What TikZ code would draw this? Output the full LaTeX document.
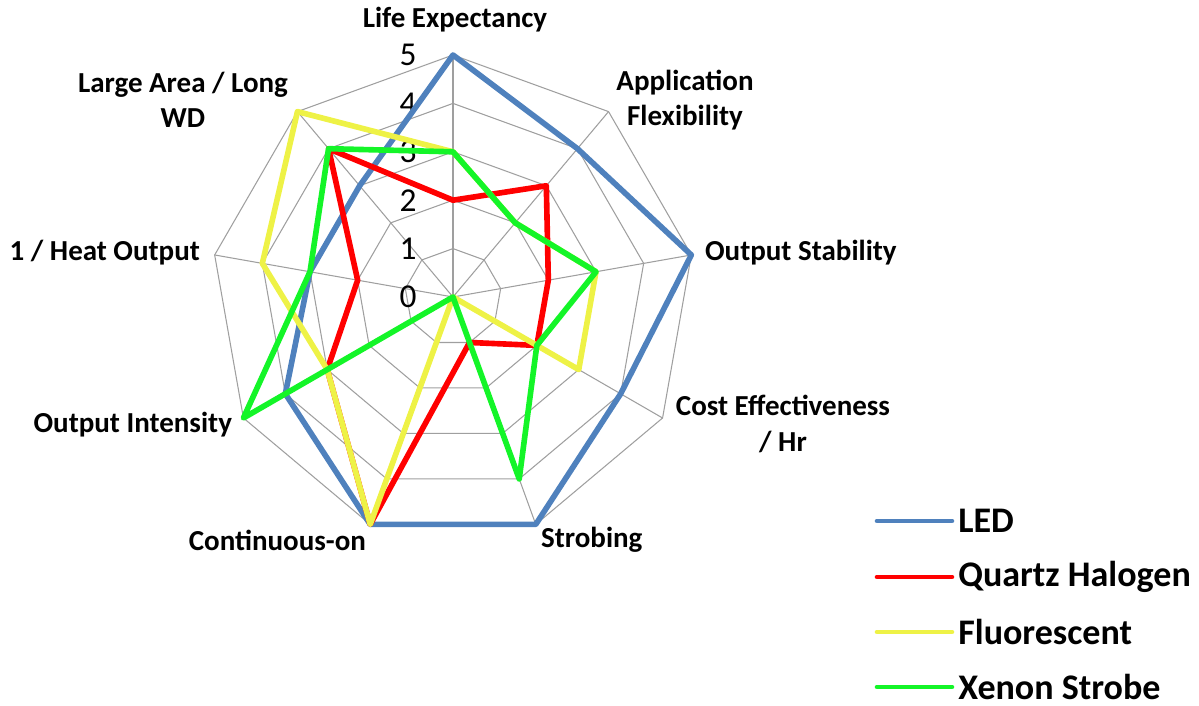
\documentclass[tikz,border=0pt]{standalone}
\usepackage{fontspec}
\setmainfont{Carlito}
\usepackage{tikz}
\definecolor{ledblue}{RGB}{79,129,189}
\definecolor{halored}{RGB}{255,0,0}
\definecolor{fluoyellow}{RGB}{238,242,70}
\definecolor{xenongreen}{RGB}{20,245,40}
\tikzset{
  axislabel/.style={font={\fontsize{16.5pt}{20pt}\selectfont\bfseries},inner sep=1pt},
  scalelabel/.style={font={\fontsize{19pt}{20pt}\selectfont},inner sep=0pt},
  legendlabel/.style={font={\fontsize{20.5pt}{22pt}\selectfont\bfseries},anchor=west,inner sep=0pt},
  gridline/.style={draw=gray!75,line width=0.6pt},
  series/.style={line width=3.2pt,line join=round},
  legline/.style={line width=2.6pt,line cap=round}}
\def\ru{0.968}

\begin{document}
\begin{tikzpicture}
\useasboundingbox (-9.06,-8.18) rectangle (14.92,5.94);
% web
\foreach \l in {1,...,5}
  \draw[gridline] (90:\l*\ru) \foreach \i in {1,...,8}{ -- ({90-40*\i}:\l*\ru)} -- cycle;
\foreach \i in {0,...,8}
  \draw[gridline] (0,0) -- ({90-40*\i}:5*\ru);
% scale
\foreach \l in {0,...,5}
  \node[scalelabel] (s\l) at (-0.9,\l*\ru) {\l};
% series
\draw[series,ledblue] (90:5*\ru) -- (50:4*\ru) -- (10:5*\ru) -- (-30:4*\ru) -- (-70:5*\ru)
  -- (-110:5*\ru) -- (-150:4*\ru) -- (170:3*\ru) -- (130:3*\ru) -- cycle;
\draw[series,halored] (90:2*\ru) -- (50:3*\ru) -- (10:2*\ru) -- (-30:2*\ru) -- (-70:1*\ru)
  -- (-110:5*\ru) -- (-150:3*\ru) -- (170:2*\ru) -- (130:4*\ru) -- cycle;
\draw[series,fluoyellow] (90:3*\ru) -- (50:2*\ru) -- (10:3*\ru) -- (-30:3*\ru) -- (0,0)
  -- (-110:5*\ru) -- (-150:3*\ru) -- (170:4*\ru) -- (130:5*\ru) -- cycle;
\draw[series,xenongreen] (90:3*\ru) -- (50:2*\ru) -- (10:3*\ru) -- (-30:2*\ru) -- (-70:4*\ru)
  -- (0,0) -- (-150:5*\ru) -- (170:3*\ru) -- (130:4*\ru) -- cycle;
% axis labels
\node[axislabel] (life) at (0.04,5.54) {Life Expectancy};
\node[axislabel,align=center] (appflex) at (4.64,3.94) {Application\\Flexibility};
\node[axislabel,anchor=west] (stab) at (5.0,0.88) {Output Stability};
\node[axislabel,align=center] (cost) at (6.6,-2.54) {Cost Effectiveness\\/ Hr};
\node[axislabel,anchor=west] (strob) at (1.72,-4.86) {Strobing};
\node[axislabel,anchor=east] (cont) at (-1.7,-4.86) {Continuous-on};
\node[axislabel,anchor=east] (intens) at (-4.38,-2.56) {Output Intensity};
\node[axislabel,anchor=east] (heat) at (-5.02,0.88) {1 / Heat Output};
\node[axislabel,align=center] (area) at (-5.4,3.94) {Large Area / Long\\WD};
% legend
\coordinate (l1a) at (8.48,-4.48); \coordinate (l1b) at (9.98,-4.48);
\coordinate (l2a) at (8.48,-5.6);  \coordinate (l2b) at (9.98,-5.6);
\coordinate (l3a) at (8.48,-6.7);  \coordinate (l3b) at (9.98,-6.7);
\coordinate (l4a) at (8.48,-7.8);  \coordinate (l4b) at (9.98,-7.8);
\draw[legline,ledblue] (l1a) -- (l1b);
\draw[legline,halored] (l2a) -- (l2b);
\draw[legline,fluoyellow] (l3a) -- (l3b);
\draw[legline,xenongreen] (l4a) -- (l4b);
\node[legendlabel] (led) at (10.1,-4.48) {LED};
\node[legendlabel] (quartz) at (10.1,-5.6) {Quartz Halogen};
\node[legendlabel] (fluo) at (10.1,-6.7) {Fluorescent};
\node[legendlabel] (xenon) at (10.1,-7.8) {Xenon Strobe};
\end{tikzpicture}
\end{document}
